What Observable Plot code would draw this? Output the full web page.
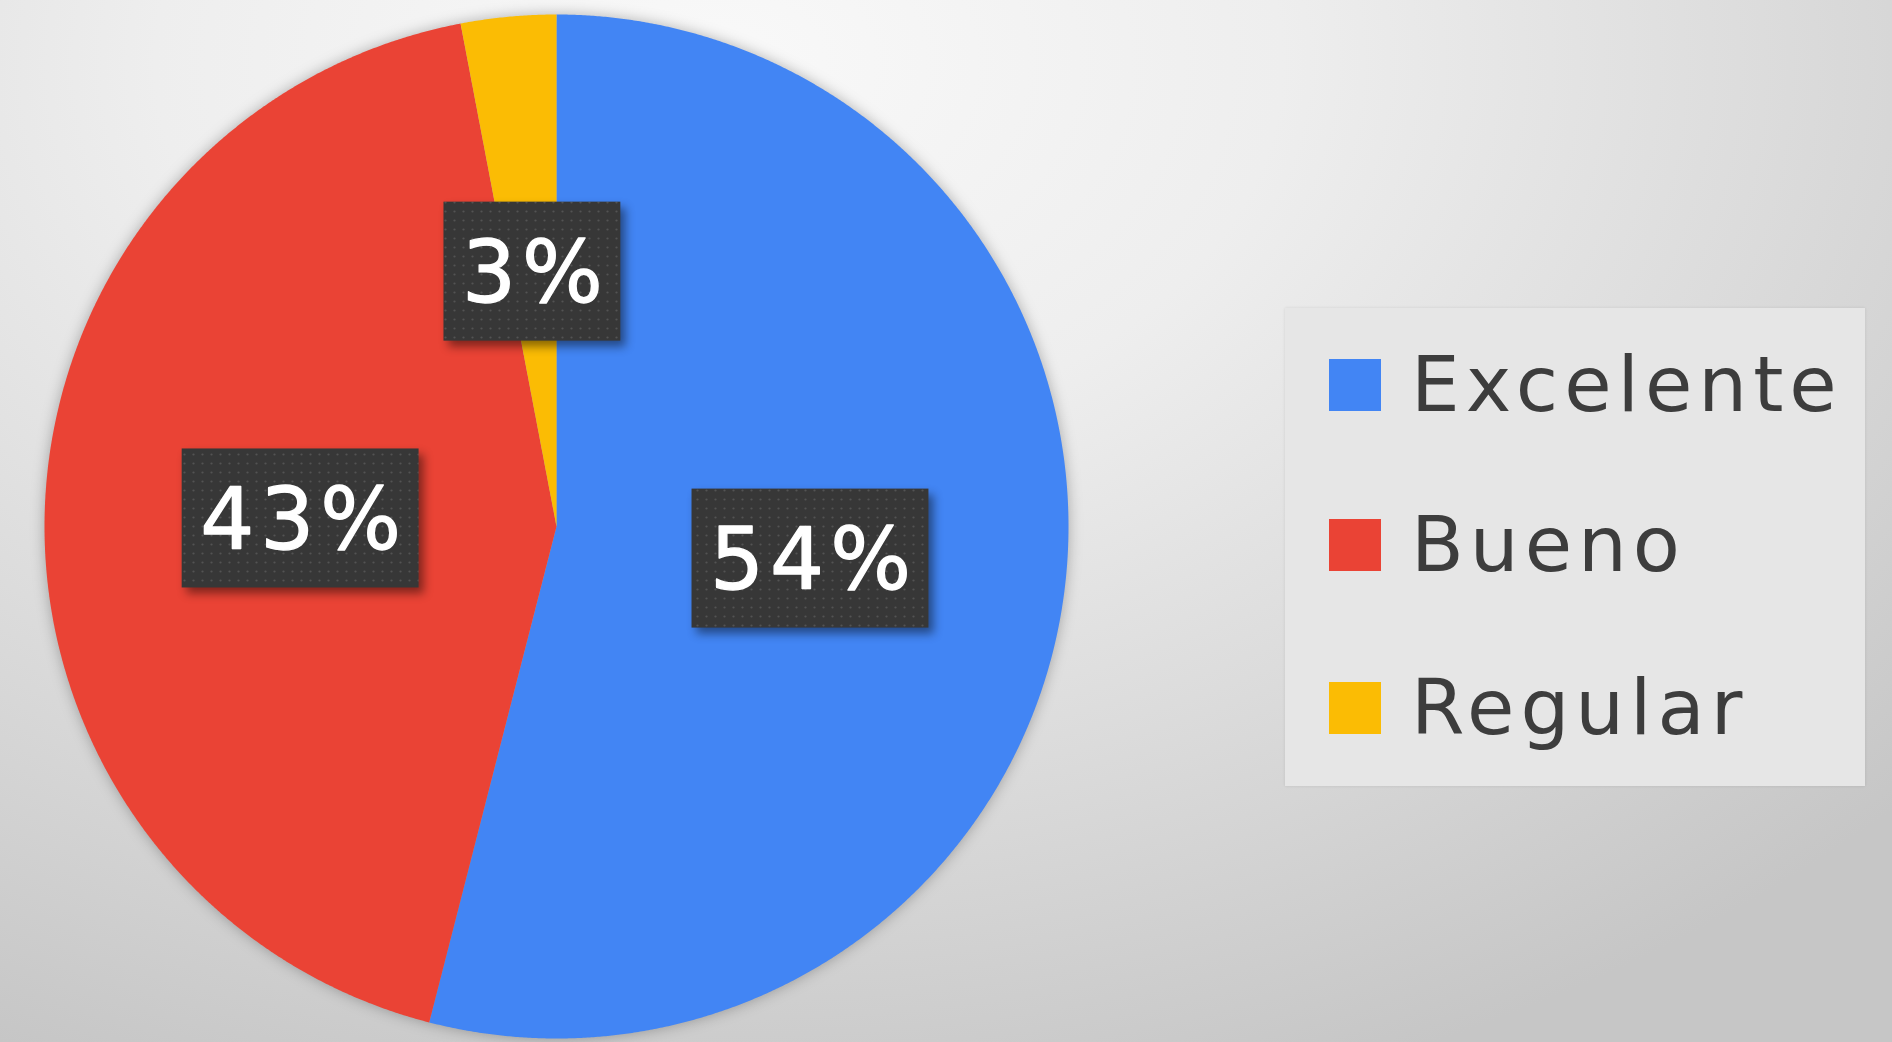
<!DOCTYPE html>
<html><head><meta charset="utf-8">
<script src="https://cdn.jsdelivr.net/npm/d3@7"></script>
<script src="https://cdn.jsdelivr.net/npm/@observablehq/plot@0.6"></script>
<style>
html,body{margin:0;padding:0;}
body{width:1892px;height:1042px;overflow:hidden;position:relative;
 background: radial-gradient(ellipse 85% 105% at 38% 6%, #f9f9f9 0%, #eeeeee 35%, #dcdcdc 65%, #c6c6c6 100%);
 font-family: "DejaVu Sans", sans-serif;}
#chart{position:absolute;left:0;top:0;}
#chart svg{background:transparent;overflow:visible;}
#chart g[aria-label="line"]{filter: drop-shadow(0 0 7px rgba(0,0,0,0.28));}
#chart g[aria-label="rect"]{filter: drop-shadow(5px 6px 5px rgba(0,0,0,0.45));}
#chart g[aria-label="text"] text{letter-spacing:6px;}
#legend{position:absolute;left:1285px;top:308px;width:580px;height:478px;background:#e6e6e6;box-shadow:0 0 3px rgba(0,0,0,0.10);}
.item{position:absolute;left:44px;height:90px;display:flex;align-items:center;}
.sw{width:52px;height:52px;margin-right:30px;flex:none;}
.lab{font-size:77px;color:#3d3d3d;letter-spacing:6px;line-height:90px;white-space:nowrap;}
</style></head><body>
<div id="chart"></div><div id="legend"></div>
<script>
const categories = ["Excelente", "Bueno", "Regular"];
const values = [54, 43, 3];
const colors = ["#4285f4", "#ea4335", "#fbbc04"];
const labels = ["54%", "43%", "3%"];

// pie geometry from the values
const arcs = d3.pie().sort(null).value(d => d)(values);
const slicePts = [];
arcs.forEach((a, i) => {
  slicePts.push({cat: categories[i], x: 0, y: 0});
  const n = Math.max(2, Math.ceil((a.endAngle - a.startAngle) / 0.004));
  for (let k = 0; k <= n; k++) {
    const t = a.startAngle + (a.endAngle - a.startAngle) * k / n;
    slicePts.push({cat: categories[i], x: Math.sin(t), y: Math.cos(t)});
  }
  slicePts.push({cat: categories[i], x: 0, y: 0});
});

const fontSize = 85, letterSp = 6, padX = 18, boxH = 139, pxPerUnit = 512;
const ctx = document.createElement("canvas").getContext("2d");
ctx.font = `${fontSize}px "DejaVu Sans"`;
const labelData = arcs.map((a, i) => {
  const m = (a.startAngle + a.endAngle) / 2;
  const tw = ctx.measureText(labels[i]).width + letterSp * (labels[i].length - 1);
  const hw = (tw / 2 + padX) / pxPerUnit, hh = (boxH / 2) / pxPerUnit;
  const cx = 0.5 * Math.sin(m), cy = 0.5 * Math.cos(m);
  return {text: labels[i], x: cx, y: cy, x1: cx - hw, x2: cx + hw, y1: cy - hh, y2: cy + hh};
});

const W = 1120, H = 1042;
const svg = Plot.plot({
  width: W, height: H,
  marginLeft: 44, marginRight: W - 1068, marginTop: 14, marginBottom: 4,
  x: {domain: [-1, 1], axis: null},
  y: {domain: [-1, 1], axis: null},
  color: {domain: categories, range: colors},
  style: {background: "transparent", overflow: "visible"},
  marks: [
    Plot.line(slicePts, {x: "x", y: "y", z: "cat", fill: "cat", stroke: "none"}),
    Plot.rect(labelData, {x1: "x1", x2: "x2", y1: "y1", y2: "y2", fill: "url(#dots)"}),
    Plot.text(labelData, {x: "x", y: "y", text: "text", fill: "white", stroke: "white", strokeWidth: 1.3,
      fontSize: fontSize, fontFamily: "DejaVu Sans", dx: letterSp / 2, dy: 3})
  ]
});
const defs = d3.select(svg).insert("defs", ":first-child");
const pat = defs.append("pattern").attr("id", "dots").attr("width", 9).attr("height", 9)
  .attr("patternUnits", "userSpaceOnUse");
pat.append("rect").attr("width", 9).attr("height", 9).attr("fill", "#373737");
pat.append("circle").attr("cx", 4.5).attr("cy", 4.5).attr("r", 1.1).attr("fill", "#535353");
document.getElementById("chart").appendChild(svg);

// legend
const legend = document.getElementById("legend");
const rowCenters = [77, 237, 400];
categories.forEach((c, i) => {
  const item = document.createElement("div");
  item.className = "item";
  item.style.top = (rowCenters[i] - 45) + "px";
  const sw = document.createElement("div");
  sw.className = "sw"; sw.style.background = colors[i];
  const lab = document.createElement("span");
  lab.className = "lab"; lab.textContent = c;
  item.appendChild(sw); item.appendChild(lab);
  legend.appendChild(item);
});
</script>
</body></html>
